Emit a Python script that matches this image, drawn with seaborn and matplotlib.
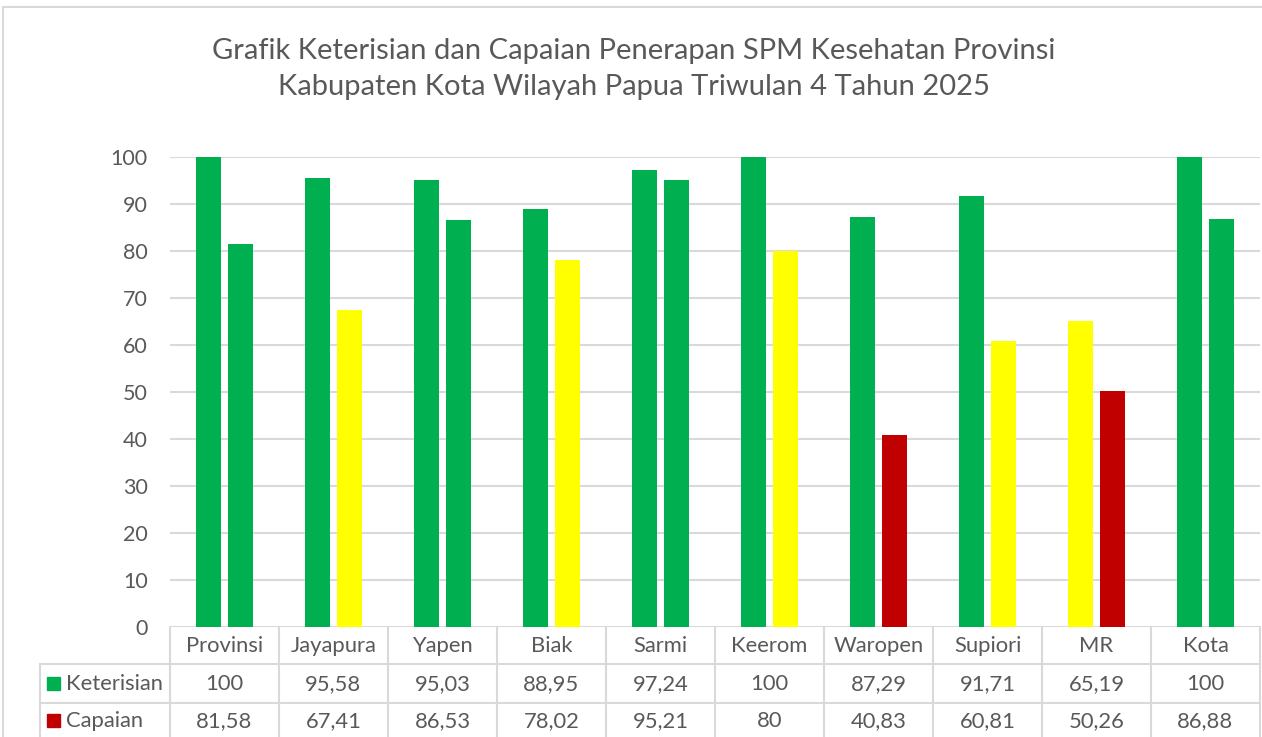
import numpy as np
import pandas as pd
import matplotlib.pyplot as plt
import seaborn as sns

# data dari grafik
wilayah = ['Provinsi', 'Jayapura', 'Yapen', 'Biak', 'Sarmi', 'Keerom',
           'Waropen', 'Supiori', 'MR', 'Kota']
keterisian = [100, 95.58, 95.03, 88.95, 97.24, 100, 87.29, 91.71, 65.19, 100]
capaian = [81.58, 67.41, 86.53, 78.02, 95.21, 80, 40.83, 60.81, 50.26, 86.88]
seri = ['Keterisian', 'Capaian']
judul = ('Grafik Keterisian dan Capaian Penerapan SPM Kesehatan Provinsi\n'
         'Kabupaten Kota Wilayah Papua Triwulan 4 Tahun 2025')

HIJAU, KUNING, MERAH = '#00B050', '#FFFF00', '#C00000'
warna_seri = {'Keterisian': HIJAU, 'Capaian': MERAH}
ABU = '#595959'
GARIS = '#d9d9d9'


def warna_nilai(v):
    # warna bar menurut ambang nilai
    if v > 80:
        return HIJAU
    if v >= 60:
        return KUNING
    return MERAH


sns.set_style('white')
plt.rcParams['font.family'] = ['Lato', 'DejaVu Sans']

df = pd.DataFrame({
    'wilayah': wilayah * 2,
    'seri': ['Keterisian'] * len(wilayah) + ['Capaian'] * len(wilayah),
    'nilai': keterisian + capaian,
})

W, H = 1262, 737
fig = plt.figure(figsize=(W / 100, H / 100), dpi=100)

ax = fig.add_axes([170 / W, (H - 627) / H, 1090 / W, 470 / H])
sns.barplot(data=df, x='wilayah', y='nilai', hue='seri', hue_order=seri,
            order=wilayah, width=0.58, gap=0.2, saturation=1,
            legend=False, ax=ax, zorder=3)
for cont in ax.containers:
    for bar in cont:
        bar.set_facecolor(warna_nilai(bar.get_height()))
        bar.set_edgecolor('none')

ax.set_xlim(-0.5, len(wilayah) - 0.5)
ax.set_ylim(0, 100)
ax.set_yticks(range(0, 101, 10))
ax.yaxis.grid(True, color=GARIS, linewidth=1.5, zorder=0)
ax.set_axisbelow(True)
ax.tick_params(axis='y', length=0, pad=16, labelsize=15.5, labelcolor=ABU)
ax.set_xticks([])
ax.set_xlabel('')
ax.set_ylabel('')
for s in ax.spines.values():
    s.set_visible(False)

# lapisan piksel untuk tabel data, judul dan bingkai
ov = fig.add_axes([0, 0, 1, 1], zorder=-1)
ov.set_xlim(0, W)
ov.set_ylim(H, 0)
ov.axis('off')
ov.patch.set_alpha(0)

ov.text(634, 69, judul, ha='center', va='center', fontsize=21,
        color=ABU, linespacing=1.5)

# bingkai chart
ov.plot([3, 3], [7, H], color=GARIS, lw=1.5)
ov.plot([3, W], [7, 7], color=GARIS, lw=1.5)

kiri, lebar = 170, 109
kanan = kiri + lebar * len(wilayah)
for i in range(len(wilayah) + 1):
    ov.plot([kiri + i * lebar] * 2, [627, H], color=GARIS, lw=1.5)
ov.plot([40, 40], [664, H], color=GARIS, lw=1.5)
for y in (664, 703):
    ov.plot([40, kanan], [y, y], color=GARIS, lw=1.5)

for i, w in enumerate(wilayah):
    cx = kiri + (i + 0.5) * lebar
    ov.text(cx, 646, w, ha='center', va='center', fontsize=15.8, color=ABU)
    for y, vals in ((684, keterisian), (721, capaian)):
        teks = f'{vals[i]:g}'.replace('.', ',')
        ov.text(cx, y, teks, ha='center', va='center', fontsize=15.8, color=ABU)

for y, nama in ((684, 'Keterisian'), (721, 'Capaian')):
    ov.add_patch(plt.Rectangle((47, y - 7), 13, 13, color=warna_seri[nama]))
    ov.text(66, y, nama, ha='left', va='center', fontsize=15.8, color=ABU)

fig.savefig('out.png', dpi=100)
